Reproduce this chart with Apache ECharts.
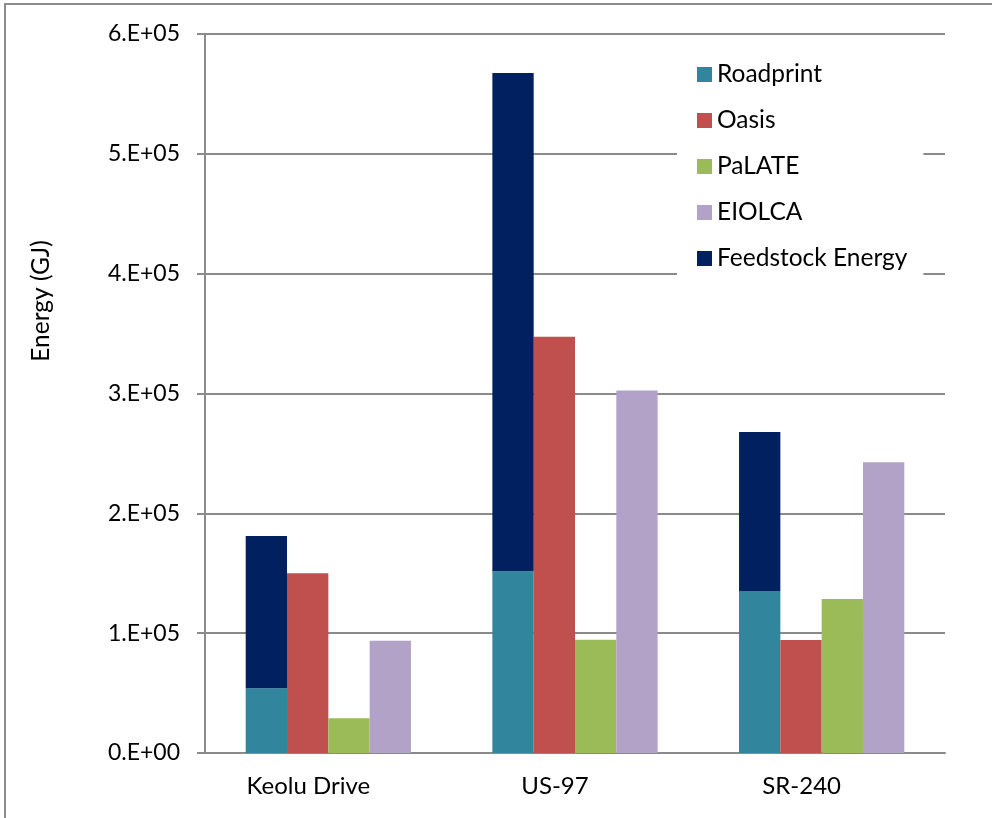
<!DOCTYPE html>
<html>
<head>
<meta charset="utf-8">
<script src="https://cdn.jsdelivr.net/npm/echarts@6/dist/echarts.min.js"></script>
<style>html,body{margin:0;padding:0;background:#fff;}#c{width:992px;height:818px;}</style>
</head>
<body>
<div id="c"></div>
<script>
const categories = ['Keolu Drive', 'US-97', 'SR-240'];
const roadprint = [54000, 151600, 135100];
const oasis = [150000, 347400, 94200];
const palate = [29000, 94600, 128500];
const eiolca = [93600, 302600, 242600];
const feedstock = [127000, 415900, 132700];
const yTickLabels = ['0.E+00', '1.E+05', '2.E+05', '3.E+05', '4.E+05', '5.E+05', '6.E+05'];

const FONT = 'Lato';
const gridColor = '#8a8a8a';
const chart = echarts.init(document.getElementById('c'), null, {renderer: 'canvas'});
chart.setOption({
  backgroundColor: '#fff',
  animation: false,
  textStyle: {fontFamily: FONT},
  grid: {left: 205, right: 47, top: 34, bottom: 65},
  legend: {
    orient: 'vertical',
    left: 677, top: 44,
    padding: [18, 16, 12, 20],
    backgroundColor: '#fff',
    icon: 'rect',
    itemWidth: 15, itemHeight: 15, itemGap: 21,
    textStyle: {fontFamily: FONT, fontSize: 24.5, color: '#000', lineHeight: 20},
    data: ['Roadprint', 'Oasis', 'PaLATE', 'EIOLCA', 'Feedstock Energy']
  },
  xAxis: {
    type: 'category',
    data: categories,
    axisLine: {lineStyle: {color: gridColor, width: 2}},
    axisTick: {show: false},
    axisLabel: {color: '#000', fontSize: 24, fontFamily: FONT, margin: 21, padding: [0, 40, 0, 0]}
  },
  yAxis: {
    type: 'value',
    min: 0, max: 600000, interval: 100000,
    axisLine: {show: true, lineStyle: {color: gridColor, width: 2}},
    axisTick: {show: true, length: 8, lineStyle: {color: gridColor, width: 2}},
    splitLine: {lineStyle: {color: gridColor, width: 2}},
    axisLabel: {color: '#000', fontSize: 23, fontFamily: FONT, margin: 25,
      formatter: function (v, i) { return yTickLabels[Math.round(v / 100000)]; }}
  },
  graphic: [
    {type: 'rect', shape: {x: 5, y: 4, width: 1100, height: 900}, style: {fill: 'none', stroke: '#8c8c8c', lineWidth: 2}, silent: true},
    {type: 'text', x: 41, y: 301, rotation: Math.PI / 2,
      style: {text: 'Energy (GJ)', fontFamily: FONT, fontSize: 24.5, fill: '#000', textAlign: 'center', textVerticalAlign: 'middle'}}
  ],
  series: [
    {name: 'Roadprint', type: 'bar', stack: 'a', data: roadprint, itemStyle: {color: '#31859C'}, barGap: '0%', barCategoryGap: '33%'},
    {name: 'Oasis', type: 'bar', data: oasis, itemStyle: {color: '#C0504D'}},
    {name: 'PaLATE', type: 'bar', data: palate, itemStyle: {color: '#9BBB59'}},
    {name: 'EIOLCA', type: 'bar', data: eiolca, itemStyle: {color: '#B2A2C7'}},
    {name: 'Feedstock Energy', type: 'bar', stack: 'a', data: feedstock, itemStyle: {color: '#002060'}}
  ]
});
</script>
</body>
</html>
